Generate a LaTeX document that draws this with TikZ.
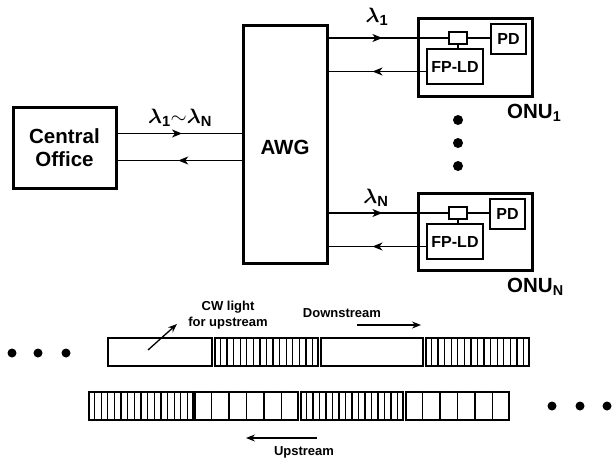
\documentclass[tikz,border=0pt]{standalone}
\usepackage{amsmath}
\usepackage{fontspec}
\setmainfont{Liberation Sans}
\usetikzlibrary{arrows.meta,decorations.markings,calc}
\newcommand\mystripes[2]{%
  \pgfmathtruncatemacro\nn{#2-1}%
  \foreach \i in {1,...,\nn}{%
    \pgfmathsetmacro\ff{\i/#2}%
    \draw[line width=1.2pt] ($(#1.north west)!\ff!(#1.north east)$) -- ($(#1.south west)!\ff!(#1.south east)$);
  }}
\begin{document}
\begin{tikzpicture}[x=1pt,y=-1pt,
  bigbox/.style={draw, line width=3pt, inner sep=0pt, font=\fontsize{20.5}{23}\selectfont\bfseries, align=center},
  smallbox/.style={draw, line width=1.6pt, inner sep=0pt, font=\fontsize{16}{18}\selectfont\bfseries},
  bigtext/.style={inner sep=0pt, font=\fontsize{20.5}{23}\selectfont\bfseries},
  lamtext/.style={inner sep=0pt, font=\fontsize{21}{23}\selectfont},
  smalltext/.style={inner sep=0pt, font=\fontsize{13}{16}\selectfont\bfseries, align=center},
  wire/.style={line width=1.3pt},
  midarrow/.style={postaction=decorate, decoration={markings, mark=at position #1 with {\arrow{Stealth[length=10pt,width=8pt,inset=3pt]}}}},
  tipped/.style={line width=1.3pt, -{Stealth[length=9pt,width=7pt,inset=3pt]}},
  cell/.style={draw, line width=2.2pt, inner sep=0pt, minimum height=28pt},
  dot/.style={circle, fill, inner sep=0pt, minimum size=#1}
]
\useasboundingbox (0,0) rectangle (612,458);

% Central office and AWG
\node[bigbox, minimum width=103pt, minimum height=81pt] (co) at (64.5,147.5) {Central\\Office};
\node[bigbox, minimum width=84pt, minimum height=238pt] (awg) at (285,144) {};
\node[bigtext] (awgt) at (285,147) {AWG};

\draw[wire, midarrow=0.52] ([yshift=14pt]co.east) -- ([yshift=14pt]co.east -| awg.west);
\draw[wire, midarrow=0.51] ([yshift=-13pt]co.east -| awg.west) -- ([yshift=-13pt]co.east);
\node[lamtext] (lco) at (180,118) {$\boldsymbol{\lambda}_{\mathbf 1}{\sim}\boldsymbol{\lambda}_{\mathbf N}$};

% ONU 1
\node[bigbox, minimum width=114pt, minimum height=78pt] (onu1) at (475,57) {};
\node[smallbox, minimum width=18pt, minimum height=12pt] (sq1) at (458,38) {};
\node[smallbox, minimum width=35pt, minimum height=30pt] (pd1) at (508.5,39) {PD};
\node[smallbox, minimum width=56pt, minimum height=35pt] (fp1) at (455,66.5) {FP-LD};
\draw[wire, midarrow=0.45] (sq1.west -| awg.east) -- (sq1.west);
\draw[wire] (sq1.east) -- (sq1.east -| pd1.west);
\draw[wire] (sq1.south) -- (sq1.south |- fp1.north);
\draw[wire, midarrow=0.55] ([yshift=-5pt]fp1.west) -- ([yshift=-5pt]fp1.west -| awg.east);
\node[lamtext] (l1) at (377,17) {$\boldsymbol{\lambda}_{\mathbf 1}$};
\node[bigtext, anchor=west] (onu1l) at (507,113) {ONU\textsubscript{1}};

% dots
\node[dot=10pt] (d1) at (458,120) {};
\node[dot=10pt] (d2) at (458,143) {};
\node[dot=10pt] (d3) at (458,166) {};

% ONU N
\node[bigbox, minimum width=114pt, minimum height=77pt] (onuN) at (475,231.5) {};
\node[smallbox, minimum width=18pt, minimum height=12pt] (sqN) at (458,213) {};
\node[smallbox, minimum width=35pt, minimum height=30pt] (pdN) at (507.5,214) {PD};
\node[smallbox, minimum width=56pt, minimum height=35pt] (fpN) at (455,241.5) {FP-LD};
\draw[wire, midarrow=0.45] (sqN.west -| awg.east) -- (sqN.west);
\draw[wire] (sqN.east) -- (sqN.east -| pdN.west);
\draw[wire] (sqN.south) -- (sqN.south |- fpN.north);
\draw[wire, midarrow=0.55] ([yshift=-5pt]fpN.west) -- ([yshift=-5pt]fpN.west -| awg.east);
\node[lamtext] (lN) at (376,198) {$\boldsymbol{\lambda}_{\mathbf N}$};
\node[bigtext, anchor=west] (onuNl) at (507,287) {ONU\textsubscript{N}};

% bottom frames, row 1
\node[cell, minimum width=104pt] (r1a) at (160,352) {};
\node[cell, minimum width=103pt] (r1b) at (266.5,352) {};
\node[cell, minimum width=102pt] (r1c) at (372,352) {};
\node[cell, minimum width=103pt] (r1d) at (477.5,352) {};
\mystripes{r1b}{16}
\mystripes{r1d}{16}

% row 2
\node[cell, minimum width=104pt] (r2a) at (141,406) {};
\node[cell, minimum width=103pt] (r2b) at (246.5,406) {};
\node[cell, minimum width=102pt] (r2c) at (352,406) {};
\node[cell, minimum width=103pt] (r2d) at (457.5,406) {};
\mystripes{r2a}{16}
\mystripes{r2b}{6}
\mystripes{r2c}{16}
\mystripes{r2d}{6}

% ellipsis dots
\node[dot=9pt] (e1) at (12,353) {};
\node[dot=9pt] (e2) at (38,353) {};
\node[dot=9pt] (e3) at (66,353) {};
\node[dot=9pt] (e4) at (552,406) {};
\node[dot=9pt] (e5) at (580,406) {};
\node[dot=9pt] (e6) at (607,406) {};

% labels and arrows
\node[smalltext] (cw) at (228,315) {CW light\\for upstream};
\coordinate (cwa) at (148,350);
\coordinate (cwb) at (177,324);
\draw[tipped] (cwa) -- (cwb);

\node[smalltext] (ds) at (342,313) {Downstream};
\coordinate (dsa) at (357,325);
\coordinate (dsb) at (421,325);
\draw[tipped] (dsa) -- (dsb);

\node[smalltext] (us) at (304,452) {Upstream};
\coordinate (usa) at (317,438);
\coordinate (usb) at (246,438);
\draw[tipped] (usa) -- (usb);
\end{tikzpicture}
\end{document}
